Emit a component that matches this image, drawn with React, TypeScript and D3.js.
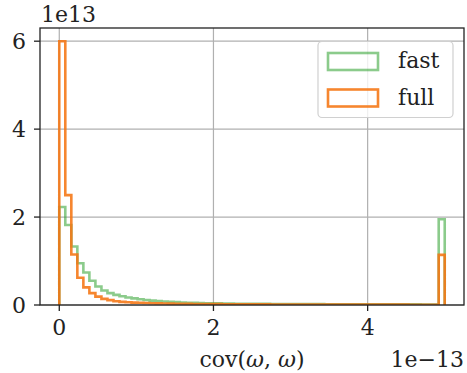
import React from "react";
import * as d3 from "d3";

// Histogram of cov(ω, ω) for the two estimators, counts in units of 1e13
const binLo = 0;
const binHi = 5; // in units of 1e-13
const fullCounts = [
  6.0, 2.5, 1.15, 0.62, 0.4, 0.27, 0.19, 0.14, 0.11, 0.085, 0.07, 0.062, 0.055, 0.05, 0.045, 0.04,
  0.037, 0.034, 0.031, 0.029, 0.027, 0.025, 0.024, 0.022, 0.021, 0.02, 0.019, 0.018, 0.017, 0.017, 0.016, 0.015,
  0.015, 0.014, 0.014, 0.013, 0.013, 0.012, 0.012, 0.012, 0.011, 0.011, 0.011, 0.01, 0.01, 0.01, 0.01, 0.009,
  0.009, 0.009, 0.009, 0.009, 0.008, 0.008, 0.008, 0.008, 0.008, 0.008, 0.007, 0.007, 0.007, 0.007, 0.007, 1.14,
];
const fastCounts = [
  2.23, 1.82, 1.33, 0.95, 0.74, 0.55, 0.42, 0.33, 0.27, 0.23, 0.2, 0.17, 0.15, 0.13, 0.115, 0.1,
  0.09, 0.08, 0.072, 0.065, 0.058, 0.052, 0.048, 0.044, 0.041, 0.038, 0.036, 0.034, 0.032, 0.03, 0.029, 0.028,
  0.027, 0.026, 0.025, 0.024, 0.023, 0.022, 0.022, 0.021, 0.02, 0.02, 0.019, 0.019, 0.018, 0.018, 0.017, 0.017,
  0.017, 0.016, 0.016, 0.016, 0.015, 0.015, 0.015, 0.015, 0.014, 0.014, 0.014, 0.014, 0.013, 0.013, 0.013, 1.95,
];
const xTicks = [0, 2, 4];
const yTicks = [0, 2, 4, 6];
const seriesNames = ["fast", "full"];
const seriesColors = ["#2ca02c", "#f57512"];
const seriesAlpha = [0.55, 0.88];

const W = 467;
const H = 373;
const left = 40;
const right = 464;
const top = 28;
const bottom = 305;
const FONT = "'DejaVu Serif', serif";
const FS = 22;

export default function App() {
  const x = d3.scaleLinear().domain([-0.25, 5.25]).range([left, right]);
  const y = d3.scaleLinear().domain([0, 6.3]).range([bottom, top]);

  const stepPath = (counts: number[]) => {
    const n = counts.length;
    const w = (binHi - binLo) / n;
    const pts: [number, number][] = [[binLo, 0]];
    counts.forEach((c, i) => {
      pts.push([binLo + i * w, c]);
      pts.push([binLo + (i + 1) * w, c]);
    });
    pts.push([binHi, 0]);
    return d3.line<[number, number]>().x((d) => x(d[0])).y((d) => y(d[1]))(pts) || "";
  };

  const series = [fastCounts, fullCounts];

  return (
    <svg
      width={W}
      height={H}
      style={{ position: "absolute", left: 0, top: 0, background: "#fff" }}
      fontFamily={FONT}
    >
      <defs>
        <clipPath id="plotArea">
          <rect x={left} y={top} width={right - left} height={bottom - top} />
        </clipPath>
      </defs>
      {/* grid */}
      <g stroke="#b0b0b0" strokeWidth={1.2}>
        {xTicks.map((t) => (
          <line key={"gx" + t} x1={x(t)} x2={x(t)} y1={top} y2={bottom} />
        ))}
        {yTicks.map((t) => (
          <line key={"gy" + t} x1={left} x2={right} y1={y(t)} y2={y(t)} />
        ))}
      </g>
      {/* histograms */}
      <g clipPath="url(#plotArea)">
        {series.map((s, i) => (
          <path
            key={seriesNames[i]}
            d={stepPath(s)}
            fill="none"
            stroke={seriesColors[i]}
            strokeOpacity={seriesAlpha[i]}
            strokeWidth={2.6}
            strokeLinejoin="miter"
          />
        ))}
      </g>
      {/* spines */}
      <rect x={left} y={top} width={right - left} height={bottom - top} fill="none" stroke="#222" strokeWidth={1.3} />
      {/* ticks */}
      <g stroke="#222" strokeWidth={1.3}>
        {xTicks.map((t) => (
          <line key={"tx" + t} x1={x(t)} x2={x(t)} y1={bottom} y2={bottom + 6} />
        ))}
        {yTicks.map((t) => (
          <line key={"ty" + t} x1={left - 6} x2={left} y1={y(t)} y2={y(t)} />
        ))}
      </g>
      <g fontSize={FS} fill="#222">
        {xTicks.map((t) => (
          <text key={"lx" + t} x={x(t)} y={335} textAnchor="middle">
            {t}
          </text>
        ))}
        {yTicks.map((t) => (
          <text key={"ly" + t} x={left - 14} y={y(t)} dy="0.36em" textAnchor="end">
            {t}
          </text>
        ))}
        <text x={left + 1} y={22}>1e13</text>
        <text x={right} y={367} textAnchor="end">1e−13</text>
        <text x={(left + right) / 2} y={367} textAnchor="middle">
          cov(<tspan fontStyle="italic">ω</tspan>, <tspan fontStyle="italic">ω</tspan>)
        </text>
      </g>
      {/* legend */}
      <g>
        <rect x={318} y={41.5} width={135} height={76} rx={4} fill="#fff" fillOpacity={0.8} stroke="#d0d0d0" strokeWidth={1.2} />
        {seriesNames.map((name, i) => (
          <g key={"lg" + name}>
            <rect
              x={328}
              y={53 + i * 36.5}
              width={50}
              height={17}
              fill="none"
              stroke={seriesColors[i]}
              strokeOpacity={seriesAlpha[i]}
              strokeWidth={2.6}
            />
            <text x={398} y={68 + i * 36.5} fontSize={FS} fill="#222">
              {name}
            </text>
          </g>
        ))}
      </g>
    </svg>
  );
}
